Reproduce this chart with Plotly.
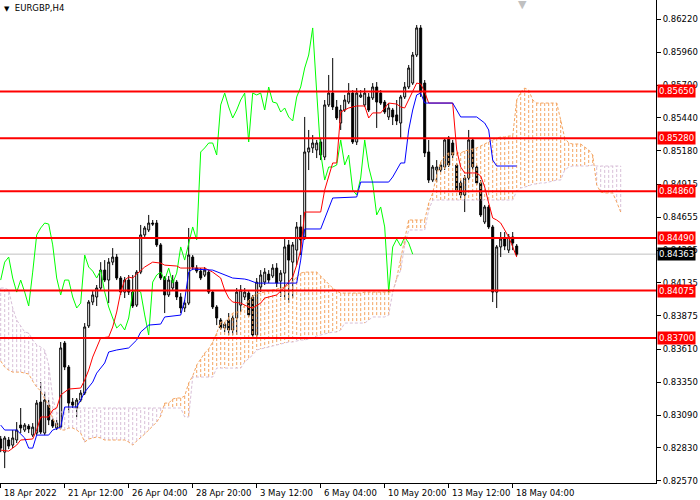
import plotly.graph_objects as go

# EURGBP H4 candles, bar 0 is the left-most bar on the chart
bar_open = [
    0.82901, 0.82797, 0.82893, 0.82853, 0.82893, 0.83011, 0.82972, 0.83003, 0.82932, 0.82948,
    0.83193, 0.82948, 0.83169, 0.83051, 0.82988, 0.82995, 0.83660, 0.83470, 0.83193, 0.83146,
    0.83209, 0.83264, 0.83795, 0.83984, 0.84024, 0.84095, 0.84237, 0.84158, 0.84300, 0.84340,
    0.84174, 0.84063, 0.84158, 0.84063, 0.83960, 0.84221, 0.84515, 0.84554, 0.84609, 0.84609,
    0.84436, 0.84174, 0.84040, 0.84095, 0.84142, 0.84024, 0.83937, 0.83976, 0.84340, 0.84253,
    0.84229, 0.84197, 0.84221, 0.84063, 0.83945, 0.83842, 0.83779, 0.83842, 0.83763, 0.83858,
    0.83960, 0.84024, 0.84055, 0.84024, 0.83724, 0.84103, 0.84142, 0.84205, 0.84190, 0.84253,
    0.84150, 0.84213, 0.84436, 0.84300, 0.84395, 0.84578, 0.84499, 0.85171, 0.85203, 0.85187,
    0.85250, 0.85131, 0.85543, 0.85637, 0.85527, 0.85400, 0.85503, 0.85566, 0.85637, 0.85250,
    0.85606, 0.85543, 0.85606, 0.85598, 0.85685, 0.85637, 0.85566, 0.85448, 0.85503, 0.85464,
    0.85400, 0.85606, 0.85685, 0.85716, 0.85938, 0.86152, 0.85716, 0.85171, 0.84949, 0.85028,
    0.85028, 0.85052, 0.85282, 0.85242, 0.85068, 0.84926, 0.84831, 0.84965, 0.85266, 0.85052,
    0.84926, 0.84617, 0.84736, 0.84578, 0.84063, 0.84420, 0.84483, 0.84395, 0.84499, 0.84427,
]
bar_high = [
    0.82925, 0.82925, 0.82917, 0.82972, 0.83035, 0.83146, 0.83027, 0.83019, 0.83027, 0.83209,
    0.83351, 0.83272, 0.83209, 0.83067, 0.83051, 0.83668, 0.83676, 0.83486, 0.83225, 0.83225,
    0.83288, 0.83818, 0.84000, 0.84079, 0.84119, 0.84300, 0.84316, 0.84332, 0.84411, 0.84364,
    0.84190, 0.84182, 0.84198, 0.84198, 0.84237, 0.84594, 0.84586, 0.84673, 0.84633, 0.84633,
    0.84451, 0.84190, 0.84190, 0.84198, 0.84158, 0.84055, 0.84000, 0.84570, 0.84356, 0.84276,
    0.84253, 0.84261, 0.84237, 0.84079, 0.83960, 0.83858, 0.83826, 0.83897, 0.83882, 0.84095,
    0.84119, 0.84095, 0.84071, 0.84040, 0.84174, 0.84237, 0.84253, 0.84237, 0.84284, 0.84292,
    0.84237, 0.84491, 0.84475, 0.84459, 0.84617, 0.84673, 0.85448, 0.85345, 0.85305, 0.85266,
    0.85282, 0.85582, 0.85780, 0.85914, 0.85582, 0.85543, 0.85622, 0.85716, 0.85661, 0.85677,
    0.85661, 0.85677, 0.85637, 0.85716, 0.85724, 0.85661, 0.85582, 0.85558, 0.85519, 0.85582,
    0.85622, 0.85724, 0.85859, 0.85962, 0.86175, 0.86175, 0.85740, 0.85266, 0.85068, 0.85107,
    0.85092, 0.85282, 0.85297, 0.85266, 0.85084, 0.84949, 0.84989, 0.85345, 0.85282, 0.85068,
    0.84949, 0.84752, 0.84752, 0.84594, 0.84435, 0.84538, 0.84538, 0.84522, 0.84538, 0.84443,
]
bar_low = [
    0.82797, 0.82671, 0.82821, 0.82829, 0.82869, 0.82948, 0.82956, 0.82948, 0.82917, 0.82932,
    0.82940, 0.82932, 0.83011, 0.82988, 0.82972, 0.82980, 0.83446, 0.83106, 0.83146, 0.83075,
    0.83193, 0.83249, 0.83779, 0.83960, 0.83953, 0.84079, 0.84142, 0.83976, 0.84276, 0.84158,
    0.84040, 0.84016, 0.84040, 0.83937, 0.83945, 0.84205, 0.84499, 0.84538, 0.84586, 0.84420,
    0.84158, 0.83897, 0.84024, 0.84079, 0.84000, 0.83897, 0.83905, 0.83960, 0.84237, 0.84213,
    0.84158, 0.84182, 0.84048, 0.83929, 0.83802, 0.83763, 0.83747, 0.83724, 0.83724, 0.83724,
    0.83905, 0.84000, 0.83866, 0.83708, 0.83708, 0.84063, 0.84119, 0.84134, 0.84174, 0.84103,
    0.84024, 0.84000, 0.83976, 0.84016, 0.84277, 0.84356, 0.84475, 0.85028, 0.85163, 0.85123,
    0.85107, 0.85107, 0.85527, 0.85503, 0.85424, 0.85345, 0.85487, 0.85550, 0.85234, 0.85226,
    0.85598, 0.85527, 0.85487, 0.85582, 0.85361, 0.85543, 0.85471, 0.85424, 0.85384, 0.85384,
    0.85282, 0.85590, 0.85669, 0.85701, 0.85922, 0.85606, 0.85131, 0.84926, 0.84933, 0.84933,
    0.85012, 0.85028, 0.85052, 0.85123, 0.84854, 0.84807, 0.84696, 0.84949, 0.85028, 0.84910,
    0.84657, 0.84601, 0.84562, 0.83984, 0.83937, 0.84340, 0.84395, 0.84372, 0.84395, 0.84348,
]
bar_close = [
    0.82829, 0.82909, 0.82845, 0.82909, 0.82972, 0.82988, 0.83011, 0.82980, 0.82995, 0.83185,
    0.82956, 0.83209, 0.83051, 0.83003, 0.83027, 0.83621, 0.83470, 0.83185, 0.83169, 0.83209,
    0.83264, 0.83787, 0.83984, 0.84040, 0.84095, 0.84237, 0.84158, 0.84300, 0.84340, 0.84174,
    0.84063, 0.84158, 0.84063, 0.83953, 0.84221, 0.84515, 0.84570, 0.84609, 0.84601, 0.84436,
    0.84174, 0.84040, 0.84158, 0.84158, 0.84024, 0.83937, 0.83976, 0.84356, 0.84261, 0.84229,
    0.84174, 0.84237, 0.84063, 0.83945, 0.83858, 0.83779, 0.83810, 0.83763, 0.83858, 0.84063,
    0.84079, 0.84063, 0.83882, 0.83724, 0.84142, 0.84198, 0.84221, 0.84158, 0.84253, 0.84134,
    0.84213, 0.84420, 0.84316, 0.84436, 0.84578, 0.84475, 0.85171, 0.85203, 0.85242, 0.85242,
    0.85147, 0.85543, 0.85637, 0.85527, 0.85440, 0.85503, 0.85582, 0.85637, 0.85250, 0.85637,
    0.85622, 0.85637, 0.85503, 0.85685, 0.85566, 0.85558, 0.85487, 0.85519, 0.85448, 0.85416,
    0.85606, 0.85685, 0.85835, 0.85938, 0.86152, 0.85645, 0.85163, 0.84949, 0.85052, 0.85052,
    0.85068, 0.85266, 0.85068, 0.85147, 0.84870, 0.84831, 0.84965, 0.85266, 0.85052, 0.84926,
    0.84673, 0.84736, 0.84578, 0.84063, 0.84420, 0.84483, 0.84427, 0.84499, 0.84451, 0.84363,
]

# Ichimoku: tenkan-sen (red) and kijun-sen (blue), vertices by bar
tenkan_bar = [0, 2, 4, 5, 8, 9, 10, 12, 13, 14, 15, 17, 20, 21, 22, 23, 25, 27, 28, 29,
              30, 31, 32, 33, 34, 36, 38, 40, 41, 44, 45, 51, 53, 55, 56, 57, 58, 60, 62, 63,
              65, 66, 69, 71, 73, 74, 75, 76, 80, 81, 83, 84, 85, 86, 87, 89, 91, 92, 93, 95,
              97, 99, 100, 101, 102, 103, 104, 105, 106, 107, 113, 114, 115, 116, 119, 120, 121, 122, 123, 124,
              125, 126, 127, 128, 129]
tenkan = [0.82813, 0.82805, 0.82853, 0.82893, 0.82901, 0.82972, 0.83075, 0.83075, 0.83130, 0.83146,
          0.83249, 0.83296, 0.83304, 0.83367, 0.83446, 0.83549, 0.83700, 0.83708, 0.83787, 0.83905,
          0.84063, 0.84158, 0.84182, 0.84174, 0.84205, 0.84261, 0.84300, 0.84292, 0.84276, 0.84269,
          0.84253, 0.84253, 0.84221, 0.84174, 0.84079, 0.84016, 0.83984, 0.83976, 0.83945, 0.83937,
          0.83976, 0.84016, 0.84040, 0.84103, 0.84182, 0.84277, 0.84395, 0.84696, 0.84696, 0.84870,
          0.85084, 0.85084, 0.85487, 0.85503, 0.85519, 0.85535, 0.85535, 0.85440, 0.85480, 0.85480,
          0.85558, 0.85550, 0.85527, 0.85519, 0.85582, 0.85645, 0.85716, 0.85709, 0.85645, 0.85558,
          0.85558, 0.85187, 0.85052, 0.85005, 0.85005, 0.84981, 0.84894, 0.84767, 0.84649, 0.84633,
          0.84609, 0.84554, 0.84498, 0.84420, 0.84340]

kijun_bar = [0, 1, 4, 6, 7, 8, 9, 12, 13, 15, 16, 19, 20, 21, 23, 24, 25, 26, 27, 29,
             32, 34, 35, 37, 40, 41, 45, 46, 47, 48, 53, 55, 58, 61, 62, 64, 74, 75, 76, 80,
             83, 89, 90, 97, 98, 100, 101, 102, 103, 104, 105, 106, 113, 115, 119, 121, 122, 123, 124, 129]
kijun = [0.83011, 0.82972, 0.82972, 0.82909, 0.82829, 0.82829, 0.82932, 0.82932, 0.82972, 0.82995,
         0.83154, 0.83154, 0.83209, 0.83272, 0.83351, 0.83422, 0.83462, 0.83502, 0.83589, 0.83605,
         0.83621, 0.83684, 0.83747, 0.83802, 0.83810, 0.83866, 0.83881, 0.84000, 0.84221, 0.84245,
         0.84237, 0.84213, 0.84174, 0.84166, 0.84158, 0.84134, 0.84134, 0.84316, 0.84562, 0.84562,
         0.84807, 0.84815, 0.84933, 0.84933, 0.84973, 0.85084, 0.85084, 0.85345, 0.85503, 0.85622,
         0.85637, 0.85558, 0.85558, 0.85448, 0.85448, 0.85400, 0.85345, 0.85107, 0.85060, 0.85060]

# senkou span A / B, one value per bar (cloud runs 26 bars past the last candle)
senkou_a = [
    0.83518, 0.83470, 0.83446, 0.83430, 0.83430, 0.83430, 0.83422, 0.83415, 0.83359, 0.83312,
    0.83280, 0.83217, 0.83169, 0.83059, 0.83011, 0.82972, 0.82972, 0.82988, 0.82988, 0.82972,
    0.82948, 0.82877, 0.82901, 0.82909, 0.82917, 0.82909, 0.82893, 0.82893, 0.82893, 0.82893,
    0.82893, 0.82893, 0.82877, 0.82853, 0.82885, 0.82909, 0.82940, 0.82972, 0.83003, 0.83035,
    0.83083, 0.83185, 0.83185, 0.83217, 0.83225, 0.83225, 0.83241, 0.83344, 0.83399, 0.83486,
    0.83533, 0.83581, 0.83613, 0.83668, 0.83739, 0.83826, 0.83826, 0.83858, 0.83897, 0.83905,
    0.83905, 0.83960, 0.84000, 0.84032, 0.84048, 0.84055, 0.84063, 0.84071, 0.84079, 0.84087,
    0.84095, 0.84103, 0.84119, 0.84150, 0.84182, 0.84213, 0.84221, 0.84221, 0.84221, 0.84221,
    0.84190, 0.84158, 0.84119, 0.84095, 0.84071, 0.84055, 0.84055, 0.84055, 0.84055, 0.84055,
    0.84055, 0.84063, 0.84063, 0.84063, 0.84063, 0.84063, 0.84063, 0.84063, 0.84063, 0.84174,
    0.84332, 0.84498, 0.84633, 0.84633, 0.84633, 0.84633, 0.84633, 0.84767, 0.84847, 0.84989,
    0.85092, 0.85139, 0.85163, 0.85163, 0.85163, 0.85163, 0.85179, 0.85187, 0.85195, 0.85203,
    0.85218, 0.85234, 0.85250, 0.85266, 0.85282, 0.85289, 0.85289, 0.85297, 0.85297, 0.85582,
    0.85645, 0.85677, 0.85661, 0.85582, 0.85558, 0.85558, 0.85558, 0.85558, 0.85558, 0.85558,
    0.85424, 0.85282, 0.85242, 0.85234, 0.85234, 0.85234, 0.85210, 0.85187, 0.85147, 0.84910,
    0.84854, 0.84847, 0.84847, 0.84847, 0.84775, 0.84696,
]
senkou_b = [
    0.84095, 0.84095, 0.84079, 0.83937, 0.83842, 0.83795, 0.83747, 0.83739, 0.83684, 0.83645,
    0.83629, 0.83605, 0.83486, 0.83225, 0.83106, 0.83106, 0.83146, 0.83146, 0.83146, 0.83146,
    0.83146, 0.83146, 0.83146, 0.83146, 0.83146, 0.83146, 0.83146, 0.83146, 0.83146, 0.83146,
    0.83146, 0.83146, 0.83146, 0.83146, 0.83146, 0.83146, 0.83146, 0.83146, 0.83146, 0.83146,
    0.83146, 0.83146, 0.83146, 0.83146, 0.83146, 0.83146, 0.83075, 0.83075, 0.83391, 0.83391,
    0.83391, 0.83391, 0.83391, 0.83391, 0.83462, 0.83462, 0.83462, 0.83462, 0.83462, 0.83462,
    0.83462, 0.83510, 0.83541, 0.83565, 0.83605, 0.83613, 0.83621, 0.83629, 0.83637, 0.83645,
    0.83652, 0.83660, 0.83668, 0.83668, 0.83676, 0.83684, 0.83684, 0.83692, 0.83700, 0.83716,
    0.83724, 0.83731, 0.83739, 0.83747, 0.83747, 0.83763, 0.83818, 0.83818, 0.83818, 0.83818,
    0.83818, 0.83818, 0.83842, 0.83866, 0.83866, 0.83866, 0.83866, 0.83881, 0.84063, 0.84166,
    0.84237, 0.84435, 0.84554, 0.84554, 0.84554, 0.84554, 0.84554, 0.84712, 0.84791, 0.84791,
    0.84791, 0.84791, 0.84791, 0.84791, 0.84791, 0.84791, 0.84791, 0.84791, 0.84791, 0.84791,
    0.84791, 0.84791, 0.84791, 0.84791, 0.84791, 0.84791, 0.84791, 0.84791, 0.84791, 0.84862,
    0.84886, 0.84894, 0.84902, 0.84918, 0.84918, 0.84926, 0.84926, 0.84933, 0.84941, 0.84949,
    0.84949, 0.85028, 0.85052, 0.85060, 0.85060, 0.85060, 0.85060, 0.85060, 0.85068, 0.85060,
    0.85060, 0.85060, 0.85060, 0.85060, 0.85060, 0.85060,
]
chikou_shift = 26

# horizontal levels drawn on the chart
level_prices = [0.85650, 0.85280, 0.84860, 0.84490, 0.84075, 0.83700]
bid_price = 0.84363

price_ticks = [0.86220, 0.85960, 0.85700, 0.85440, 0.85180, 0.84915, 0.84655, 0.84395,
               0.84135, 0.83875, 0.83610, 0.83350, 0.83090, 0.82830, 0.82570]
time_tick_bars = [0, 16, 32, 48, 64, 80, 96, 112, 128]
time_tick_labels = ['18 Apr 2022', '21 Apr 12:00', '26 Apr 04:00', '28 Apr 20:00', '3 May 12:00',
                    '6 May 04:00', '10 May 20:00', '13 May 12:00', '18 May 04:00']

FONT = 'DejaVu Sans'
bars = list(range(len(bar_close)))

fig = go.Figure()

fig.add_trace(go.Candlestick(
    x=bars, open=bar_open, high=bar_high, low=bar_low, close=bar_close,
    increasing=dict(line=dict(color='black', width=1), fillcolor='white'),
    decreasing=dict(line=dict(color='black', width=1), fillcolor='black'),
    whiskerwidth=0, showlegend=False, hoverinfo='skip'))

# cloud hatching: one dashed vertical stroke per bar
up_x, up_y, dn_x, dn_y = [], [], [], []
for i, (a, b) in enumerate(zip(senkou_a, senkou_b)):
    if a >= b:
        up_x += [i, i, None]
        up_y += [a, b, None]
    else:
        dn_x += [i, i, None]
        dn_y += [a, b, None]

fig.add_trace(go.Scatter(x=up_x, y=up_y, mode='lines', line=dict(color='#F4A460', width=1, dash='3px,2px'),
                         showlegend=False, hoverinfo='skip'))
fig.add_trace(go.Scatter(x=dn_x, y=dn_y, mode='lines', line=dict(color='#D8BFD8', width=1, dash='3px,2px'),
                         showlegend=False, hoverinfo='skip'))
cloud_bars = list(range(len(senkou_a)))
fig.add_trace(go.Scatter(x=cloud_bars, y=senkou_a, mode='lines', line=dict(color='#F4A460', width=1, dash='3px,2px'),
                         showlegend=False, hoverinfo='skip'))
fig.add_trace(go.Scatter(x=cloud_bars, y=senkou_b, mode='lines', line=dict(color='#D8BFD8', width=1, dash='3px,2px'),
                         showlegend=False, hoverinfo='skip'))

# chikou span = close drawn 26 bars back
fig.add_trace(go.Scatter(x=bars[:len(bars) - chikou_shift], y=bar_close[chikou_shift:], mode='lines',
                         line=dict(color='#00FF00', width=1), showlegend=False, hoverinfo='skip'))
fig.add_trace(go.Scatter(x=tenkan_bar, y=tenkan, mode='lines', line=dict(color='#FF0000', width=1),
                         showlegend=False, hoverinfo='skip'))
fig.add_trace(go.Scatter(x=kijun_bar, y=kijun, mode='lines', line=dict(color='#0000FF', width=1),
                         showlegend=False, hoverinfo='skip'))

shapes = [dict(type='line', xref='paper', x0=0, x1=1, yref='y', y0=bid_price, y1=bid_price,
               line=dict(color='#C0C0C0', width=1), layer='below')]
for p in level_prices:
    shapes.append(dict(type='line', xref='paper', x0=0, x1=1, yref='y', y0=p, y1=p,
                       line=dict(color='#FF0000', width=2), layer='above'))

annotations = []
for p in level_prices:
    annotations.append(dict(xref='paper', x=1, xanchor='left', xshift=1, yref='y', y=p, yanchor='middle',
                            text='%.5f' % p, showarrow=False, bgcolor='#FF0000', borderpad=1,
                            font=dict(family=FONT, size=8.5, color='white')))
annotations.append(dict(xref='paper', x=1, xanchor='left', xshift=1, yref='y', y=bid_price, yanchor='middle',
                        text='%.5f' % bid_price, showarrow=False, bgcolor='black', borderpad=1,
                        font=dict(family=FONT, size=8.5, color='white')))
for b, lab in zip(time_tick_bars, time_tick_labels):
    annotations.append(dict(xref='x', x=b, xanchor='left', xshift=1, yref='paper', y=0, yanchor='top', yshift=-3,
                            text=lab, showarrow=False, font=dict(family=FONT, size=8.5, color='black')))
annotations.append(dict(xref='paper', x=0, xanchor='left', xshift=2, yref='paper', y=1, yanchor='top', yshift=-1,
                        text='<span style="font-size:7px">▼</span>  EURGBP,H4', showarrow=False,
                        font=dict(family=FONT, size=8.5, color='black')))
# chart-shift marker at the top edge
annotations.append(dict(xref='paper', x=522 / 656, xanchor='center', yref='paper', y=1, yanchor='top', yshift=4,
                        text='▼', showarrow=False, font=dict(family=FONT, size=11, color='#C0C0C0')))

fig.update_layout(
    width=700, height=500,
    margin=dict(l=0, r=44, t=0, b=17),
    paper_bgcolor='white', plot_bgcolor='white',
    font=dict(family=FONT, size=8.5, color='black'),
    shapes=shapes, annotations=annotations,
    hovermode=False,
)
fig.update_xaxes(range=[-0.175, 163.825], rangeslider=dict(visible=False), showgrid=False, zeroline=False,
                 tickvals=time_tick_bars, ticktext=[''] * len(time_tick_bars),
                 ticks='outside', ticklen=4, tickcolor='black', showline=True, linecolor='black', linewidth=1)
fig.update_yaxes(range=[0.82553, 0.86373], side='right', showgrid=False, zeroline=False,
                 tickvals=price_ticks, ticktext=['%.5f' % v for v in price_ticks],
                 ticks='outside', ticklen=4, tickcolor='black', showline=True, linecolor='black', linewidth=1,
                 tickfont=dict(family=FONT, size=8.5, color='black'))

# page body has a default 8px margin; drop it so the figure sits at the window corner
fig.write_html('out.html', config={'displayModeBar': False},
               post_script="document.body.style.margin='0';")
